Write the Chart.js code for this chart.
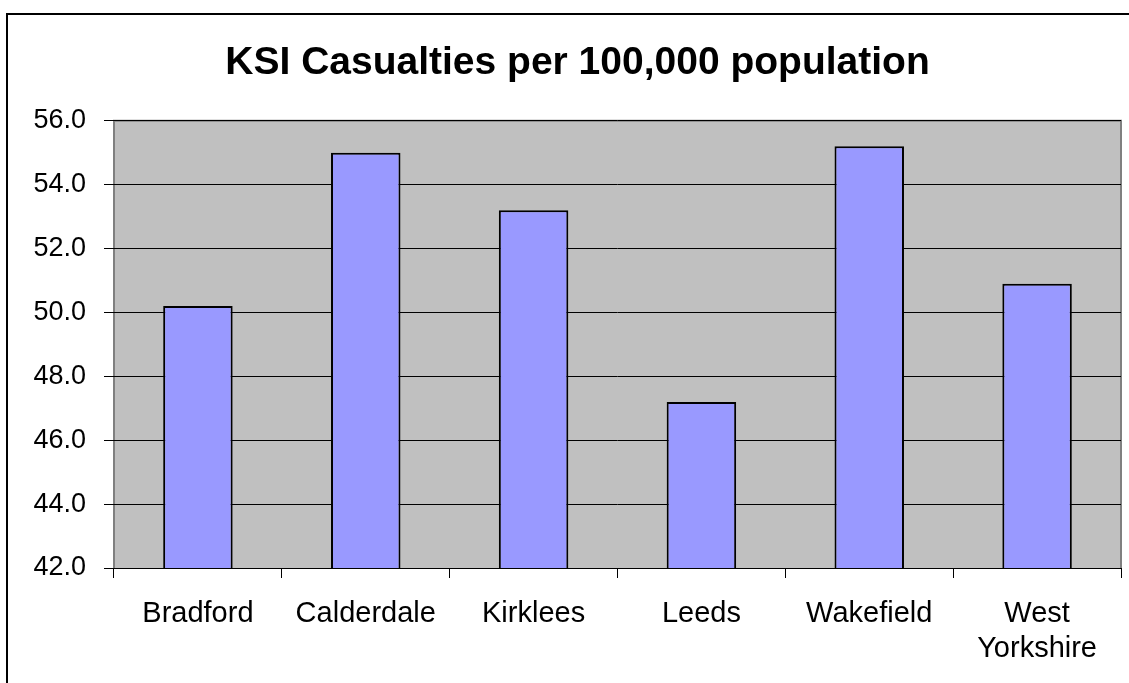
<!DOCTYPE html>
<html>
<head>
<meta charset="utf-8">
<script src="https://cdn.jsdelivr.net/npm/chart.js@4/dist/chart.umd.min.js"></script>
<style>
  html, body { margin: 0; padding: 0; background: #fff; overflow: hidden; }
  #frame { position: absolute; left: 6px; top: 13px; width: 1200px; height: 800px; border: 2px solid #000; }
  #wrap { position: absolute; left: 0; top: 0; width: 1129px; height: 683px; }
</style>
</head>
<body>
<div id="frame"></div>
<div id="wrap"><canvas id="chart"></canvas></div>
<script>
var categories = ['Bradford', 'Calderdale', 'Kirklees', 'Leeds', 'Wakefield', ['West', 'Yorkshire']];
var ksiRates = [50.2, 55.0, 53.2, 47.2, 55.2, 50.9];
var yMin = 42;
var yMax = 56;
var yStep = 2;

// grey plot background with a grey frame like the old spreadsheet chart
var plotBackground = {
  id: 'plotBackground',
  beforeDraw: function(chart) {
    var ctx = chart.ctx;
    var a = chart.chartArea;
    ctx.save();
    ctx.fillStyle = '#c0c0c0';
    ctx.fillRect(a.left, a.top, a.right - a.left, a.bottom - a.top);
    ctx.strokeStyle = '#808080';
    ctx.lineWidth = 2;
    ctx.beginPath();
    ctx.moveTo(a.left, a.bottom);
    ctx.lineTo(a.left, a.top);
    ctx.lineTo(a.right, a.top);
    ctx.lineTo(a.right, a.bottom);
    ctx.stroke();
    ctx.restore();
  }
};

var chartElement = document.getElementById('chart');
new Chart(chartElement, {
  type: 'bar',
  data: {
    labels: categories,
    datasets: [{
      label: 'KSI Casualties per 100,000 population',
      data: ksiRates,
      backgroundColor: '#9999ff',
      borderColor: '#000',
      borderWidth: 2,
      borderSkipped: 'bottom',
      categoryPercentage: 1,
      barPercentage: 0.414
    }]
  },
  options: {
    responsive: true,
    maintainAspectRatio: false,
    animation: false,
    layout: { padding: { left: 34, right: 8, top: 0, bottom: 0 } },
    plugins: {
      legend: { display: false },
      tooltip: { enabled: false },
      title: {
        display: true,
        text: 'KSI Casualties per 100,000 population',
        color: '#000',
        font: { family: 'Liberation Sans, Arial, sans-serif', size: 39, weight: 'bold', lineHeight: 1.2 },
        padding: { top: 40, bottom: 34 }
      }
    },
    scales: {
      x: {
        offset: true,
        border: { display: true, color: '#000', width: 1 },
        grid: { offset: true, drawOnChartArea: false, drawTicks: true, tickLength: 10, color: '#000' },
        ticks: {
          color: '#000',
          padding: 18,
          maxRotation: 0,
          font: { family: 'Liberation Sans, Arial, sans-serif', size: 29, lineHeight: 1.22 }
        },
        afterFit: function(scale) { scale.height = 115; }
      },
      y: {
        min: yMin,
        max: yMax,
        border: { display: false },
        grid: { color: '#000', lineWidth: 1, tickLength: 10, drawTicks: true },
        ticks: {
          stepSize: yStep,
          color: '#000',
          padding: 18,
          font: { family: 'Liberation Sans, Arial, sans-serif', size: 27 },
          callback: function(value) { return value.toFixed(1); }
        },
        afterFit: function(scale) { scale.width = 80; }
      }
    }
  },
  plugins: [plotBackground]
});
</script>
</body>
</html>
